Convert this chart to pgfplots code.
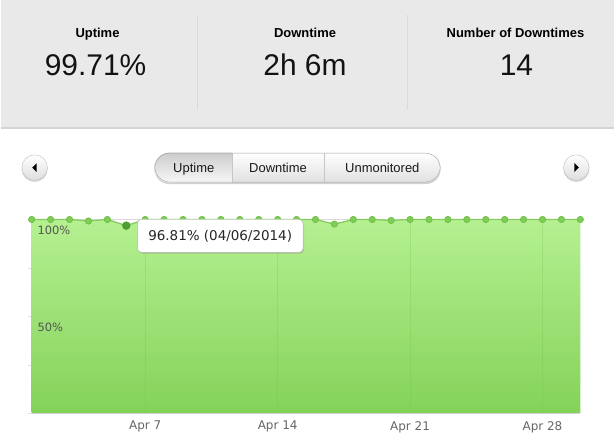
\documentclass[border=0pt]{standalone}
\usepackage{pgfplots}
\pgfplotsset{compat=1.18}
\usepackage{fontspec}
\setmainfont{Liberation Sans}
\newfontfamily\dejavu{DejaVu Sans}
\usetikzlibrary{shadows}
\definecolor{panel}{HTML}{E9E9E9}
\definecolor{panelline}{HTML}{D4D4D4}
\definecolor{divider}{HTML}{DADADA}
\definecolor{filltop}{HTML}{B5F091}
\definecolor{fillbot}{HTML}{84D25A}
\definecolor{linec}{HTML}{86CC5E}
\definecolor{markf}{HTML}{7FCD55}
\definecolor{markd}{HTML}{6BBB44}
\definecolor{markhi}{HTML}{4F9E31}
\definecolor{gridg}{HTML}{76C64C}
\definecolor{labelc}{HTML}{555555}
\definecolor{btnborder}{HTML}{A0A0A0}
\begin{document}
\begin{tikzpicture}[x=1pt,y=1pt]
% background
\fill[white] (0,0) rectangle (615,445);
\fill[panel] (0,317) rectangle (615,445);
\draw[panelline, line width=1.5pt] (0,316.5) -- (615,316.5);
\draw[divider] (197,430) -- (197,335);
\draw[divider] (407,430) -- (407,335);
% stats
\node[anchor=base, font=\bfseries\fontsize{13}{15}\selectfont] at (97,407) {Uptime};
\node[anchor=base, font=\bfseries\fontsize{13}{15}\selectfont] at (305,407) {Downtime};
\node[anchor=base, font=\bfseries\fontsize{13}{15}\selectfont] at (516,407) {Number of Downtimes};
\node[anchor=base, font=\fontsize{30}{34}\selectfont, text=black!93] at (95,369) {99.71\%};
\node[anchor=base, font=\fontsize{30}{34}\selectfont, text=black!93] at (305,369) {2h 6m};
\node[anchor=base, font=\fontsize{30}{34}\selectfont, text=black!93] at (517,369) {14};
% segmented button
\fill[black!18, rounded corners=15pt] (154,260.5) rectangle (441,291);
\begin{scope}
\clip[rounded corners=15pt] (154,262) rectangle (441,292);
\shade[top color=white, bottom color=black!12] (154,262) rectangle (441,292);
\shade[top color=black!20, bottom color=black!3] (154,262) rectangle (232,292);
\draw[black!22] (232,262) -- (232,292);
\draw[black!22] (324,262) -- (324,292);
\end{scope}
\draw[btnborder, rounded corners=15pt] (154.5,262.5) rectangle (440.5,291.5);
\node[anchor=base, font=\fontsize{13}{15}\selectfont, text=black!90] at (193.5,272) {Uptime};
\node[anchor=base, font=\fontsize{13}{15}\selectfont, text=black!90] at (278,272) {Downtime};
\node[anchor=base, font=\fontsize{13}{15}\selectfont, text=black!90] at (382.5,272) {Unmonitored};
% round buttons
\foreach \cx in {34,577} {
  \fill[black!15] (\cx,275.5) circle (13);
  \shade[top color=white, bottom color=black!13] (\cx,277) circle (12.8);
  \draw[black!25] (\cx,277) circle (12.8);
}
\fill[black] (31.5,277) -- (36,281.5) -- (36,272.5) -- cycle;
\fill[black] (579.5,277) -- (575,281.5) -- (575,272.5) -- cycle;
% chart
\begin{axis}[
  at={(31pt,31pt)}, anchor=south west,
  scale only axis, width=550pt, height=194pt,
  xmin=1, xmax=30, ymin=0, ymax=100,
  clip=false,
  axis x line*=bottom, axis y line*=left,
  x axis line style={draw=black!18},
  y axis line style={draw=none},
  xtick={7,14,21,28},
  xticklabels={Apr 7, Apr 14, Apr 21, Apr 28},
  xtick style={draw=none},
  ytick={0,25,50,75,100},
  yticklabels={},
  ytick style={draw=black!12},
  tick align=outside,
  major tick length=4pt,
  xticklabel style={font=\dejavu\fontsize{12}{14}\selectfont, text=black!60, inner sep=0pt, yshift=-4pt},
]
\draw[black!15] (axis cs:1,100) -- (axis cs:30,100);
\addplot[draw=none, top color=filltop, bottom color=fillbot] coordinates {
(1,100) (2,100) (3,100) (4,99.2) (5,100) (6,96.81) (7,100) (8,100) (9,100) (10,100)
(11,100) (12,100) (13,100) (14,100) (15,100) (16,100) (17,97.6) (18,100) (19,100) (20,99.5)
(21,100) (22,100) (23,100) (24,100) (25,100) (26,100) (27,100) (28,100) (29,100) (30,100)
} \closedcycle;
\draw[gridg, opacity=0.3] (axis cs:7,0) -- (axis cs:7,100);
\draw[gridg, opacity=0.3] (axis cs:14,0) -- (axis cs:14,100);
\draw[gridg, opacity=0.3] (axis cs:21,0) -- (axis cs:21,100);
\draw[gridg, opacity=0.3] (axis cs:28,0) -- (axis cs:28,100);
\addplot[linec, line width=1.3pt, mark=*, mark size=3.2pt, mark options={fill=markf, draw=markd, line width=0.6pt}] coordinates {
(1,100) (2,100) (3,100) (4,99.2) (5,100) (6,96.81) (7,100) (8,100) (9,100) (10,100)
(11,100) (12,100) (13,100) (14,100) (15,100) (16,100) (17,97.6) (18,100) (19,100) (20,99.5)
(21,100) (22,100) (23,100) (24,100) (25,100) (26,100) (27,100) (28,100) (29,100) (30,100)
};
\addplot[only marks, mark=*, mark size=4pt, mark options={fill=markhi, draw=markhi}] coordinates {(6,96.81)};
\node[anchor=west, font=\dejavu\fontsize{11.5}{13}\selectfont, text=labelc, inner sep=0pt] at (axis cs:1.3,94.3) {100\%};
\node[anchor=west, font=\dejavu\fontsize{11.5}{13}\selectfont, text=labelc, inner sep=0pt] at (axis cs:1.3,44.3) {50\%};
\end{axis}
% tooltip
\draw[black!30, fill=white, rounded corners=4pt, drop shadow={opacity=0.25, shadow xshift=1pt, shadow yshift=-1.5pt}] (137,192) rectangle (303,225);
\node[font=\dejavu\fontsize{13.5}{15}\selectfont, text=black!85] at (220,208.5) {96.81\% (04/06/2014)};
\end{tikzpicture}
\end{document}
